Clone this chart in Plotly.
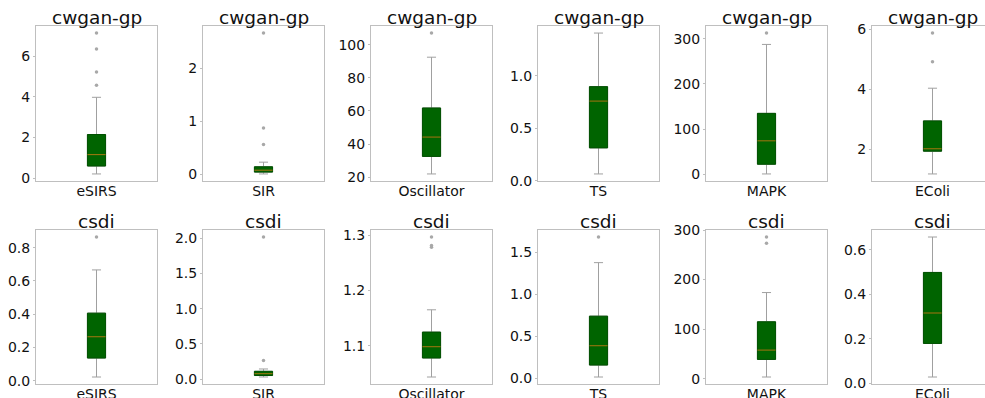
import plotly.graph_objects as go

W, H = 985, 398

titles = ["cwgan-gp"] * 6 + ["csdi"] * 6
models = ["eSIRS", "SIR", "Oscillator", "TS", "MAPK", "EColi"] * 2

lower_whisker = [0.20, 0.005, 21.9, 0.064, 0.7, 1.17,
                 0.022, 0.029, 1.0435, 0.016, 3.4, 0.028]
q1 = [0.59, 0.04, 32.5, 0.313, 22.2, 1.93,
      0.136, 0.050, 1.0778, 0.158, 38.9, 0.179]
median = [1.15, 0.076, 44.2, 0.76, 74.0, 2.01,
          0.264, 0.076, 1.0982, 0.388, 57.7, 0.316]
q3 = [2.14, 0.14, 61.8, 0.898, 134.8, 2.94,
      0.406, 0.110, 1.1246, 0.740, 114.8, 0.4985]
upper_whisker = [3.97, 0.227, 92.5, 1.41, 287.4, 4.03,
                 0.666, 0.143, 1.1649, 1.377, 173.8, 0.658]
fliers = [
    [4.56, 5.22, 6.34, 7.13],
    [0.56, 0.87, 2.66],
    [107.1],
    [],
    [312.6],
    [4.91, 5.87],
    [0.864],
    [0.262, 2.02],
    [1.278, 1.281, 1.2964],
    [1.682],
    [273.2, 285.9],
    [],
]
ytick_vals = [
    [0, 2, 4, 6],
    [0, 1, 2],
    [20, 40, 60, 80, 100],
    [0.0, 0.5, 1.0],
    [0, 100, 200, 300],
    [2, 4, 6],
    [0.0, 0.2, 0.4, 0.6, 0.8],
    [0.0, 0.5, 1.0, 1.5, 2.0],
    [1.1, 1.2, 1.3],
    [0.0, 0.5, 1.0, 1.5],
    [0, 100, 200, 300],
    [0.0, 0.2, 0.4, 0.6],
]
ytick_text = [
    ["0", "2", "4", "6"],
    ["0", "1", "2"],
    ["20", "40", "60", "80", "100"],
    ["0.0", "0.5", "1.0"],
    ["0", "100", "200", "300"],
    ["2", "4", "6"],
    ["0.0", "0.2", "0.4", "0.6", "0.8"],
    ["0.0", "0.5", "1.0", "1.5", "2.0"],
    ["1.1", "1.2", "1.3"],
    ["0.0", "0.5", "1.0", "1.5"],
    ["0", "100", "200", "300"],
    ["0.0", "0.2", "0.4", "0.6"],
]

# layout constants (pixels)
col_left = [36, 203, 371, 538, 706, 872]
panel_w = 121
rows_px = [(26, 181), (230, 384)]
box_w = 0.15

FONT = "DejaVu Sans"
FRAME = "#bfbfbf"
WHISK = "#a0a0a0"
GREEN = "#006400"
MED = "#a87c10"

fig = go.Figure()
annotations = []
layout_axes = {}

for i in range(12):
    r, c = divmod(i, 6)
    n = i + 1
    xa = "x" if n == 1 else f"x{n}"
    ya = "y" if n == 1 else f"y{n}"
    x0 = col_left[c]
    x1 = min(x0 + panel_w, W)
    top, bot = rows_px[r]
    xdom = [x0 / W, x1 / W]
    ydom = [1 - bot / H, 1 - top / H]
    xr = [-0.5, -0.5 + (x1 - x0) / panel_w]

    vals = [lower_whisker[i], upper_whisker[i]] + fliers[i]
    lo, hi = min(vals), max(vals)
    pad = 0.05 * (hi - lo)
    yr = [lo - pad, hi + pad]

    # whiskers + box (gray lines)
    fig.add_trace(go.Box(
        x=[0], q1=[q1[i]], median=[median[i]], q3=[q3[i]],
        lowerfence=[lower_whisker[i]], upperfence=[upper_whisker[i]],
        width=box_w, whiskerwidth=0.5, boxpoints=False,
        fillcolor=GREEN, line=dict(color=WHISK, width=1),
        xaxis=xa, yaxis=ya, showlegend=False, hoverinfo="skip",
    ))
    # box edge in green
    fig.add_trace(go.Box(
        x=[0], q1=[q1[i]], median=[median[i]], q3=[q3[i]],
        lowerfence=[q1[i]], upperfence=[q3[i]],
        width=box_w, whiskerwidth=0, boxpoints=False,
        fillcolor=GREEN, line=dict(color="#005000", width=1),
        xaxis=xa, yaxis=ya, showlegend=False, hoverinfo="skip",
    ))
    # median line
    fig.add_trace(go.Scatter(
        x=[-box_w / 2, box_w / 2], y=[median[i], median[i]],
        mode="lines", line=dict(color=MED, width=1),
        xaxis=xa, yaxis=ya, showlegend=False, hoverinfo="skip",
    ))
    # outliers
    if fliers[i]:
        fig.add_trace(go.Scatter(
            x=[0] * len(fliers[i]), y=fliers[i], mode="markers",
            marker=dict(color="#a8a8a8", size=3.5, line=dict(width=0)),
            xaxis=xa, yaxis=ya, showlegend=False, hoverinfo="skip",
        ))

    axx = "xaxis" if n == 1 else f"xaxis{n}"
    axy = "yaxis" if n == 1 else f"yaxis{n}"
    layout_axes[axx] = dict(
        domain=xdom, range=xr, anchor=ya, tickvals=[0], ticktext=[models[i]],
        showline=True, mirror=True, linecolor=FRAME, linewidth=1,
        ticks="", ticklabelstandoff=-3,
        showgrid=False, zeroline=False, fixedrange=True,
        automargin=False,
        tickfont=dict(family=FONT, size=14, color="#111"),
    )
    layout_axes[axy] = dict(
        domain=ydom, range=yr, anchor=xa,
        tickvals=ytick_vals[i], ticktext=ytick_text[i],
        showline=True, mirror=(c != 5), linecolor=FRAME, linewidth=1,
        ticks="outside", ticklen=2, tickcolor=FRAME,
        showgrid=False, zeroline=False, fixedrange=True,
        automargin=False,
        tickfont=dict(family=FONT, size=14, color="#111"),
    )
    annotations.append(dict(
        text=titles[i], xref="paper", yref="paper",
        x=(x0 + panel_w / 2) / W, y=1 - top / H,
        xanchor="center", yanchor="bottom", showarrow=False, yshift=-4,
        font=dict(family=FONT, size=18.5, color="#111"),
    ))

fig.update_layout(
    width=W, height=H, margin=dict(l=0, r=0, t=0, b=0, autoexpand=False),
    paper_bgcolor="white", plot_bgcolor="white",
    boxmode="overlay", annotations=annotations,
    font=dict(family=FONT),
    **layout_axes,
)

fig.write_html("out.html", config={"displayModeBar": False})
